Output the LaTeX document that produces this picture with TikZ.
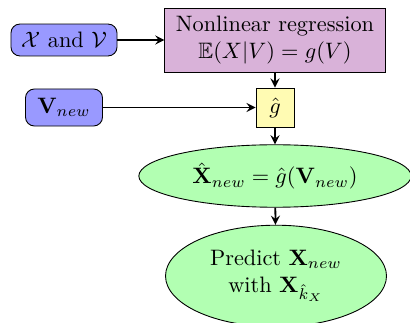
\documentclass[tikz,border=0pt]{standalone}
\usepackage{amsfonts}
\usepackage{amssymb}
\usepackage{amsmath}
\usetikzlibrary{shapes.geometric,arrows}

\begin{document}
\begin{tikzpicture}[x=0.448pt,y=-0.448pt,>=stealth,
  inbox/.style={draw=black,fill=blue!40,rounded corners=4pt,inner sep=1pt},
  regbox/.style={draw=black,fill=violet!30,align=center,inner sep=1pt},
  gbox/.style={draw=black,fill=yellow!30,inner sep=1pt},
  outell/.style={draw=black,fill=green!30,ellipse,align=center,inner sep=0pt},
  flow/.style={->,thick}]
\useasboundingbox (0,0) rectangle (410,323);
% inputs
\node[inbox,minimum width=47.5pt,minimum height=14.3pt] (xv) at (64,40) {$\mathcal{X}$ and $\mathcal{V}$};
\node[inbox,minimum width=34.5pt,minimum height=16.6pt] (vnew) at (64,107.5) {$\mathbf{V}_{new}$};
% regression and estimate
\node[regbox,minimum width=98.7pt,minimum height=28.7pt] (reg) at (275,40) {Nonlinear regression\\$\mathbb{E}(X|V)=g(V)$};
\node[gbox,minimum width=17pt,minimum height=17.5pt] (ghat) at (275,107.5) {$\hat{g}$};
% outputs
\node[outell,minimum width=122pt,minimum height=28pt] (xhat) at (275,176) {$\hat{\mathbf{X}}_{new}=\hat{g}(\mathbf{V}_{new})$};
\node[outell,minimum width=99pt,minimum height=45.5pt] (pred) at (276,276) {Predict $\mathbf{X}_{new}$\\with $\mathbf{X}_{\hat{k}_X}$};
% connectors
\draw[flow] (xv) -- (reg);
\draw[flow] (reg) -- (ghat);
\draw[flow] (vnew) -- (ghat);
\draw[flow] (ghat) -- (xhat);
\draw[flow] (xhat) -- (pred);
\end{tikzpicture}
\end{document}
